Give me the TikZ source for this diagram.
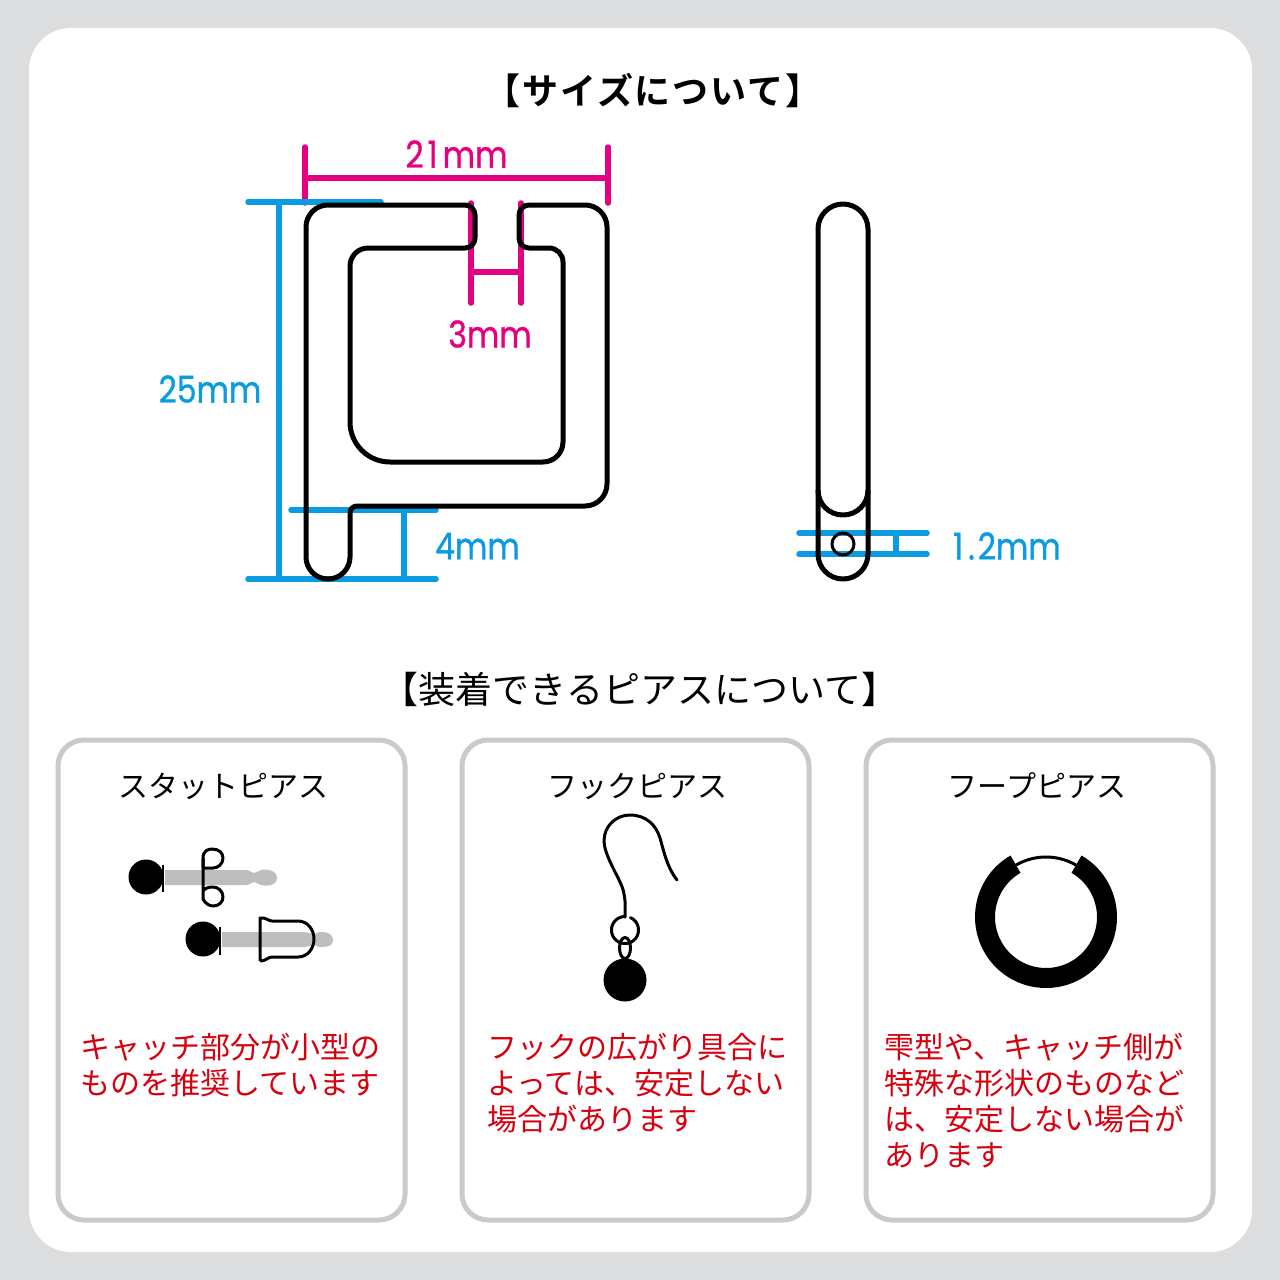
\documentclass[tikz,border=0pt]{standalone}
\usepackage{fontspec}
\setmainfont{Noto Sans CJK JP}
\newfontfamily\numfont[FakeStretch=0.85,FakeBold=0.9]{Poppins}
\newfontfamily\jpbold[LetterSpace=5]{Noto Sans CJK JP Bold}
\definecolor{bgray}{HTML}{DCDDDE}
\definecolor{fgray}{HTML}{C9CACA}
\definecolor{pgray}{HTML}{BEBEBE}
\definecolor{dimblue}{HTML}{0A9BE0}
\definecolor{dimpink}{HTML}{E4007F}
\definecolor{notered}{HTML}{D7000F}
\tikzset{
 x=1pt,y=-1pt,
 body/.style={draw=black,line width=5pt,line join=round},
 thin body/.style={draw=black,line width=3pt,line cap=round},
 pinkdim/.style={draw=dimpink,line width=5.5pt,line cap=round},
 bluedim/.style={draw=dimblue,line width=5.5pt,line cap=round},
 dimtext/.style={font=\numfont\fontsize{37}{37}\selectfont,inner sep=0pt},
 cardbox/.style={draw=fgray,fill=white,line width=5pt,rounded corners=26pt},
 cardtitle/.style={font=\fontsize{30}{36}\selectfont,inner sep=0pt,text=black},
 note/.style={font=\fontsize{30}{36}\selectfont,text=notered,inner sep=0pt,anchor=north west,align=left},
}
\begin{document}
\begin{tikzpicture}
\useasboundingbox (0,0) rectangle (1280,1280);
\fill[bgray] (0,0) rectangle (1280,1280);
\fill[white,rounded corners=42pt] (29,28) rectangle (1252,1252);
\node[inner sep=0pt,font=\jpbold\fontsize{36}{36}\selectfont] (title1) at (653,91) {【サイズについて】};
\node[inner sep=0pt,font=\fontsize{37}{37}\selectfont] (title2) at (640,689) {【装着できるピアスについて】};
% dimensions pink
\draw[pinkdim] (305,147) -- (305,203);
\draw[pinkdim] (608,147) -- (608,203);
\draw[pinkdim] (305,178) -- (608,178);
\draw[pinkdim] (471,203) -- (471,303);
\draw[pinkdim] (521,203) -- (521,303);
\draw[pinkdim,line cap=butt] (471,272) -- (521,272);
\node[dimtext,text=dimpink] (d21) at (456.5,154) {2\kern4pt 1\kern5pt mm};
\node[dimtext,text=dimpink] (d3) at (490,334) {3mm};
% dimensions blue
\draw[bluedim] (248,202) -- (381,202);
\draw[bluedim,line cap=butt] (279,202) -- (279,579);
\draw[bluedim] (248,579) -- (436,579);
\draw[bluedim] (291,510) -- (436,510);
\draw[bluedim,line cap=butt] (404,510) -- (404,579);
\node[dimtext,text=dimblue] (d25) at (210,389) {25mm};
\node[dimtext,text=dimblue,anchor=west] (d4) at (435,546) {4mm};
\draw[bluedim] (799,533) -- (927,533);
\draw[bluedim] (799,554) -- (927,554);
\draw[bluedim,line cap=butt] (896,533) -- (896,554);
\node[dimtext,text=dimblue,anchor=west] (d12) at (953,546) {1\kern5pt.\kern3pt 2mm};
% main body
\draw[body] (400,205) [rounded corners=10pt] -- (475,205) -- (475,248)
  [rounded corners=18pt] -- (350,248)
  [rounded corners=40pt] -- (350,462)
  [rounded corners=20pt] -- (563,462)
  [rounded corners=14pt] -- (563,248)
  [rounded corners=10pt] -- (519,248) -- (519,205)
  [rounded corners=22pt] -- (607,205) -- (607,506)
  [rounded corners=7pt] -- (350,506)
  [rounded corners=22pt] -- (350,579) -- (306,579) -- (306,205) -- (400,205);
% side view
\draw[body,rounded corners=25pt] (818,204) rectangle (868,579);
\draw[body] (818,490) .. controls (818,504) and (829,515) .. (843,515) .. controls (857,515) and (868,504) .. (868,490);
\node[circle,draw=black,line width=3pt,minimum size=22pt,inner sep=0pt] (hole) at (843,544) {};
% cards
\draw[cardbox] (58,740) rectangle (405,1220);
\draw[cardbox] (462,740) rectangle (809,1220);
\draw[cardbox] (866,740) rectangle (1213,1220);
\node[cardtitle] (t1) at (223,786) {スタットピアス};
\node[cardtitle] (t2) at (637,786) {フックピアス};
\node[cardtitle] (t3) at (1037,786) {フープピアス};
\node[note] (n1) at (80,1033) {キャッチ部分が小型の\\ものを推奨しています};
\node[note] (n2) at (487,1033) {フックの広がり具合に\\よっては、安定しない\\場合があります};
\node[note] (n3) at (884.5,1033) {雫型や、キャッチ側が\\特殊な形状のものなど\\は、安定しない場合が\\あります};
% stud 1
\fill[pgray] (165,870) -- (246,870) .. controls (250,870) and (251,873) .. (254,873) .. controls (257,873) and (258,870) .. (264,869.5)
  .. controls (273,869.5) and (277,873) .. (277,878) .. controls (277,883) and (273,886) .. (264,885.5)
  .. controls (258,885) and (257,882) .. (254,882) .. controls (251,882) and (250,885) .. (246,885) -- (165,885) -- cycle;
\fill[black] (146,877) circle[radius=17.5pt];
\draw[black,line width=2.5pt] (163,865) -- (163,892);
\draw[black,line width=3pt,line join=round] (213,868) .. controls (207,868) and (203,868) .. (203,868)
  -- (203,858) .. controls (203,851) and (208,849) .. (212,849) .. controls (219,849) and (223,853) .. (223,858) .. controls (223,864) and (218,868) .. (213,868);
\draw[black,line width=3pt,line join=round] (203,858) -- (203,899) .. controls (205,903) and (209,906) .. (213,906)
  .. controls (219,906) and (223,902) .. (223,897) .. controls (223,891) and (218,887) .. (213,887) .. controls (209,887) and (205,888) .. (203,891);
% stud 2
\fill[pgray] (222,932) -- (305,932) .. controls (308,932) and (310,934) .. (315,934) .. controls (317,932) and (320,932) .. (322,932)
  .. controls (329,932) and (333,935) .. (333,940) .. controls (333,945) and (329,947) .. (322,947)
  .. controls (320,947) and (317,947) .. (315,945) .. controls (310,945) and (308,947) .. (305,947) -- (222,947) -- cycle;
\fill[black] (203,939) circle[radius=17.5pt];
\draw[black,line width=2.5pt] (220,927) -- (220,955);
\draw[black,line width=3pt,line join=round] (260,961) -- (260,918) .. controls (266,917) and (268,921) .. (272,921) -- (298,921)
  .. controls (308,921) and (314,930) .. (314,939) .. controls (314,948) and (308,957) .. (298,957) -- (272,957)
  .. controls (268,957) and (266,961) .. (260,961);
% hook
\draw[thin body] (625,917) -- (625,901) .. controls (624,892) and (623,888) .. (620,882)
  .. controls (616,873) and (604,853) .. (604,841)
  .. controls (604,826) and (616,815) .. (630,815) .. controls (646,815) and (656,825) .. (660,838)
  .. controls (664,852) and (667,867) .. (677,880);
\draw[thin body] plot[domain=-270:66,samples=70] ({625+13.5*cos(\x)},{930-13.5*sin(\x)});
\draw[black,line width=3pt] (625,948) ellipse[x radius=5.5pt,y radius=10.5pt];
\fill[black] (625,980) circle[radius=21.5pt];
% hoop
\fill[black,even odd rule] plot[domain=120:420,samples=90] ({1046+71*cos(\x)},{917-71*sin(\x)})
  -- plot[domain=420:120,samples=90] ({1046+51*cos(\x)},{917-51*sin(\x)}) -- cycle;
\draw[black,line width=3pt] plot[domain=60:120,samples=30] ({1046+60*cos(\x)},{917-60*sin(\x)});
\end{tikzpicture}
\end{document}
